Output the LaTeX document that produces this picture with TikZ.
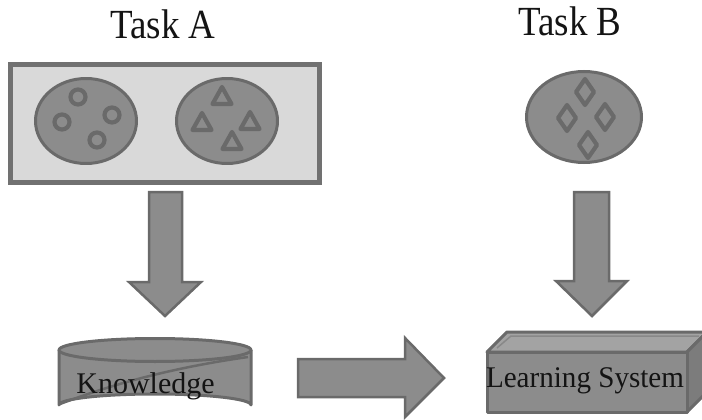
\documentclass[tikz,border=0pt]{standalone}
\usepackage{fontspec}
\setmainfont{Liberation Serif}
\definecolor{edgegray}{HTML}{6A6A6A}
\definecolor{bodygray}{HTML}{8C8C8C}
\definecolor{panelgray}{HTML}{D9D9D9}
\definecolor{topgray}{HTML}{A3A3A3}
\definecolor{sidegray}{HTML}{7C7C7C}
\definecolor{txtgray}{HTML}{141414}
\tikzset{
  bodyshape/.style={fill=bodygray, draw=edgegray, line width=3pt, line join=round},
  glyph/.style={draw=edgegray, line width=4.2pt, line join=round},
  blockarrow/.style={fill=bodygray, draw=edgegray, line width=2.5pt, line join=miter},
  tasktitle/.style={font=\fontsize{37}{40}\selectfont, text=txtgray, anchor=base, inner sep=0pt, yscale=1.12},
  boxtext/.style={font=\fontsize{30}{34}\selectfont, text=txtgray, anchor=base, inner sep=0pt},
}
\begin{document}
\begin{tikzpicture}[x=1pt,y=-1pt]
\useasboundingbox (0,0) rectangle (702,420);
\clip (0,0) rectangle (702,420);
% titles
\node[tasktitle] (tA) at (163,39) {Task A};
\node[tasktitle] (tB) at (570,36) {Task B};
% task A panel
\node[draw=edgegray!95, fill=panelgray, line width=5pt, minimum width=309pt, minimum height=118pt, inner sep=0pt] (panelA) at (165,123.5) {};
% ellipse with circles
\draw[bodyshape] (86,121) ellipse [x radius=50.5pt, y radius=42.5pt];
\foreach \p in {(78,97),(62,122),(112,115),(97,140)}
  \draw[glyph] \p circle [radius=7.5pt];
% ellipse with triangles
\draw[bodyshape] (227,121) ellipse [x radius=50.5pt, y radius=42.5pt];
\foreach \cx/\cy in {222/97, 202/123, 250/122, 232/142}
  \draw[glyph] (\cx,\cy-10) -- (\cx+9.5,\cy+7) -- (\cx-9.5,\cy+7) -- cycle;
% task B ellipse with diamonds
\draw[bodyshape] (584,117) ellipse [x radius=57.5pt, y radius=45.5pt];
\foreach \cx/\cy in {585/92, 567/118, 605/117, 588/145}
  \draw[glyph] (\cx,\cy-13) -- (\cx+9,\cy) -- (\cx,\cy+13) -- (\cx-9,\cy) -- cycle;
% down arrow A
\draw[blockarrow] (149,192) -- (182,192) -- (182,282) -- (201,282) -- (165,316) -- (129,282) -- (149,282) -- cycle;
% down arrow B
\draw[blockarrow] (574,192) -- (609,192) -- (609,281) -- (627,281) -- (592,316) -- (556,281) -- (574,281) -- cycle;
% right arrow
\draw[blockarrow] (298,359) -- (405,359) -- (405,338) -- (444,378) -- (405,417) -- (405,397) -- (298,397) -- cycle;
% knowledge cylinder
\draw[bodyshape] (59,350) -- (59,405) arc[start angle=180, end angle=360, x radius=96pt, y radius=-11pt] -- (251,350);
\draw[bodyshape] (155,350) ellipse [x radius=96pt, y radius=11.5pt];
\draw[edgegray, line width=2.5pt] (248,357) .. controls (170,368) and (110,385) .. (60,404);
\node[boxtext] (kn) at (145.5,393) {Knowledge};
% learning system box
\draw[bodyshape, fill=topgray] (487,352) -- (507,332) -- (707,332) -- (687,352) -- cycle;
\draw[bodyshape, fill=sidegray] (687,352) -- (707,332) -- (707,392) -- (687,412) -- cycle;
\draw[bodyshape] (487,352) rectangle (687,412);
\draw[edgegray!80, line width=1.5pt] (497,348) -- (511,336) -- (699,336);
\node[boxtext, xscale=0.97] (ls) at (585,387) {Learning System};
\end{tikzpicture}
\end{document}
